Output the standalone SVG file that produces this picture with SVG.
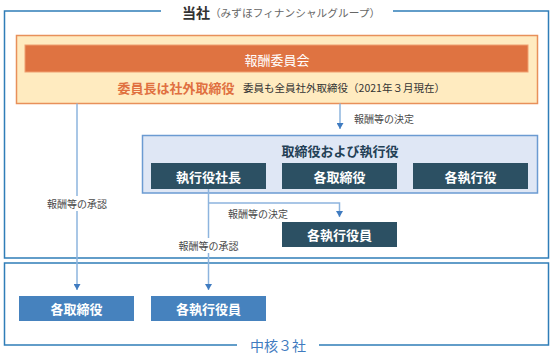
<svg xmlns="http://www.w3.org/2000/svg" width="553" height="357" viewBox="0 0 553 357">
<style>
text{font-family:"Noto Sans CJK JP","Noto Sans",sans-serif;text-anchor:middle;dominant-baseline:central}
.frame{fill:none;stroke:#2F7DB8;stroke-width:1.5}
.dark{fill:#2C5063}
.lb{fill:#4682BE}
.wt{fill:#fff;font-size:13px;font-weight:bold}
.lab{fill:#4a4a4a;font-size:10px}
.conn{fill:none;stroke:#8DB4DE;stroke-width:1.5}
</style>
<defs>
<marker id="arrd" markerUnits="userSpaceOnUse" markerWidth="8" markerHeight="7" refX="7" refY="4" orient="auto" viewBox="0 0 7 8">
<path d="M0,0 L7,4 L0,8 Z" fill="#3F7BC0"/>
</marker>
</defs>
<rect width="553" height="357" fill="#fff"/>
<g id="top-frame">
<path class="frame" d="M161,11 H4.5 V258 H548.5 V11 H393"/>
<text x="281" y="12"><tspan font-size="14" font-weight="bold" fill="#333">当社</tspan><tspan font-size="10.7" fill="#666">（みずほフィナンシャルグループ）</tspan></text>
</g>
<g id="bottom-frame">
<path class="frame" d="M237,345 H4.5 V263 H548.5 V345 H319"/>
<text x="278" y="345" font-size="14" fill="#3F7BC0">中核３社</text>
</g>
<g id="committee">
<rect x="16.5" y="35.5" width="521" height="68" fill="#FFEBC0" stroke="#E8905A" stroke-width="1.5"/>
<rect x="25" y="45" width="503" height="27" fill="#DF7341" stroke="#F0A070" stroke-width="1"/>
<text x="277" y="59" font-size="13" fill="#fff">報酬委員会</text>
<text x="176" y="87" font-size="13" font-weight="bold" fill="#E07040">委員長は社外取締役</text>
<text x="344" y="87" font-size="10.5" fill="#333">委員も全員社外取締役（2021年３月現在）</text>
</g>
<g id="board">
<rect x="142.5" y="135.5" width="395" height="57.5" fill="#DFE7F5" stroke="#6B9BD2" stroke-width="1.5"/>
<text x="340" y="150.5" font-size="13" font-weight="bold" fill="#234055">取締役および執行役</text>
</g>
<g id="president"><rect class="dark" x="151" y="163" width="115" height="26"/><text class="wt" x="208.5" y="176">執行役社長</text></g>
<g id="directors"><rect class="dark" x="282" y="163" width="115" height="26"/><text class="wt" x="339.5" y="176">各取締役</text></g>
<g id="executives"><rect class="dark" x="413" y="163" width="115" height="26"/><text class="wt" x="470.5" y="176">各執行役</text></g>
<g id="exec-officers"><rect class="dark" x="282" y="222" width="115" height="25"/><text class="wt" x="339.5" y="234.5">各執行役員</text></g>
<g id="core-directors"><rect class="lb" x="19" y="296" width="115" height="25"/><text class="wt" x="76.5" y="308.5">各取締役</text></g>
<g id="core-officers"><rect class="lb" x="151" y="296" width="115" height="25"/><text class="wt" x="208.5" y="308.5">各執行役員</text></g>
<g id="connectors">
<path class="conn" d="M77,103.5 V290" marker-end="url(#arrd)"/>
<path class="conn" d="M340,103.5 V129" marker-end="url(#arrd)"/>
<path class="conn" d="M208.5,189 V290" marker-end="url(#arrd)"/>
<path class="conn" d="M208.5,203 H339.5 V217" marker-end="url(#arrd)"/>
<rect x="43" y="196" width="68" height="15" fill="#fff"/>
<text class="lab" x="77" y="203">報酬等の承認</text>
<rect x="175" y="238" width="67" height="15" fill="#fff"/>
<text class="lab" x="208.5" y="245">報酬等の承認</text>
<text class="lab" x="384" y="118">報酬等の決定</text>
<text class="lab" x="258" y="213">報酬等の決定</text>
</g>
</svg>
